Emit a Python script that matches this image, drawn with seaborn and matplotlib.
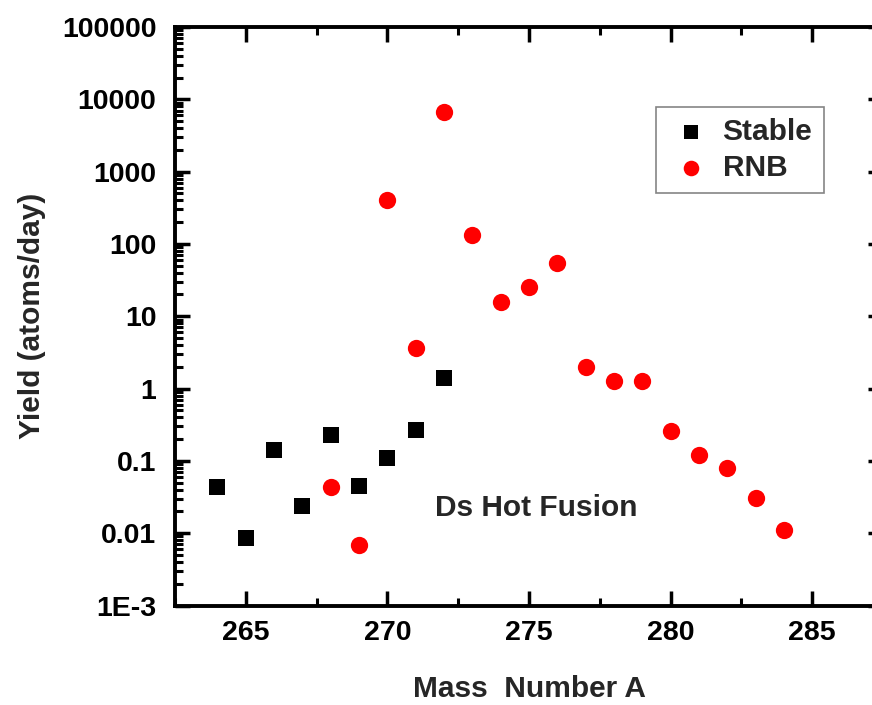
import numpy as np
import pandas as pd
import matplotlib
matplotlib.use("Agg")
import matplotlib.pyplot as plt
import matplotlib.ticker as mticker
import seaborn as sns

# ---- data ----
stable_mass = [264, 265, 266, 267, 268, 269, 270, 271, 272]
stable_yield = [0.0436, 0.00865, 0.142, 0.0235, 0.229, 0.0454, 0.109, 0.268, 1.38]

rnb_mass = [268, 269, 270, 271, 272, 273, 274, 275, 276, 277, 278, 279,
            280, 281, 282, 283, 284]
rnb_yield = [0.0436, 0.00677, 407, 3.6, 6700, 134, 15.7, 25, 55, 2.0, 1.27, 1.27,
             0.26, 0.119, 0.080, 0.031, 0.0112]

y_tick_values = [1e-3, 1e-2, 1e-1, 1, 10, 100, 1000, 10000, 100000]
y_tick_labels = ["1E-3", "0.01", "0.1", "1", "10", "100", "1000", "10000", "100000"]
x_tick_values = [265, 270, 275, 280, 285]
x_tick_labels = ["265", "270", "275", "280", "285"]

series_names = ["Stable", "RNB"]
annotation = "Ds Hot Fusion"
x_label = "Mass  Number A"
y_label = "Yield (atoms/day)"

stable_df = pd.DataFrame({"mass": stable_mass, "yield": stable_yield})
rnb_df = pd.DataFrame({"mass": rnb_mass, "yield": rnb_yield})

sns.set_theme(style="white")
plt.rcParams["font.family"] = ["Liberation Sans", "DejaVu Sans"]
plt.rcParams["font.weight"] = "bold"
plt.rcParams["axes.labelweight"] = "bold"

fig = plt.figure(figsize=(8.72, 7.05), dpi=100)
ax = fig.add_axes([175 / 872, (705 - 605.5) / 705, 708 / 872, (605.5 - 27) / 705])

sns.scatterplot(data=stable_df, x="mass", y="yield", marker="s", color="black",
                s=140, linewidth=0, ax=ax, label=series_names[0], legend=False)
sns.scatterplot(data=rnb_df, x="mass", y="yield", marker="o", color="#ff0000",
                s=155, linewidth=0, ax=ax, label=series_names[1], legend=False)

ax.set_yscale("log")
ax.set_xlim(262.5, 262.5 + 708 / 28.32)
ax.set_ylim(1e-3, 1e5)

ax.yaxis.set_major_locator(mticker.FixedLocator(y_tick_values))
ax.yaxis.set_major_formatter(mticker.FixedFormatter(y_tick_labels))
ax.yaxis.set_minor_locator(mticker.LogLocator(base=10, subs=np.arange(2, 10), numticks=20))
ax.yaxis.set_minor_formatter(mticker.NullFormatter())
ax.xaxis.set_major_locator(mticker.FixedLocator(x_tick_values))
ax.xaxis.set_major_formatter(mticker.FixedFormatter(x_tick_labels))
ax.xaxis.set_minor_locator(mticker.MultipleLocator(2.5))

for sp in ax.spines.values():
    sp.set_visible(True)
    sp.set_color("black")
    sp.set_linewidth(2.8)

ax.tick_params(axis="both", which="major", direction="in", length=11, width=2.5,
               color="black", labelsize=20.5, labelcolor="black")
ax.tick_params(axis="both", which="minor", direction="in", length=6, width=2.2,
               color="black")
ax.tick_params(axis="x", which="both", top=True, bottom=True, pad=10.5)
ax.tick_params(axis="y", which="major", left=True, right=True, pad=13.5)
ax.tick_params(axis="y", which="minor", left=True, right=False)
for lab in ax.get_xticklabels() + ax.get_yticklabels():
    lab.set_fontweight("bold")

ax.set_xlabel(x_label, fontsize=21.5, fontweight="bold", labelpad=20.5)
ax.set_ylabel(y_label, fontsize=21.5, fontweight="bold", labelpad=11.5)

ax.text((536.5 - 175) / 708, 0.168, annotation, transform=ax.transAxes, fontsize=21.5,
        fontweight="bold", ha="center", va="center")

leg = ax.legend(loc="upper left", bbox_to_anchor=((656 - 175) / 708, 0.862),
                borderaxespad=0, frameon=True, fancybox=False, markerscale=0.9,
                prop={"size": 21.5, "weight": "bold"}, handlelength=1.6,
                handletextpad=0.25, labelspacing=0.25, borderpad=0.38)
leg.get_frame().set_edgecolor("#666666")
leg.get_frame().set_linewidth(1.2)

fig.savefig("out.png", dpi=100)
